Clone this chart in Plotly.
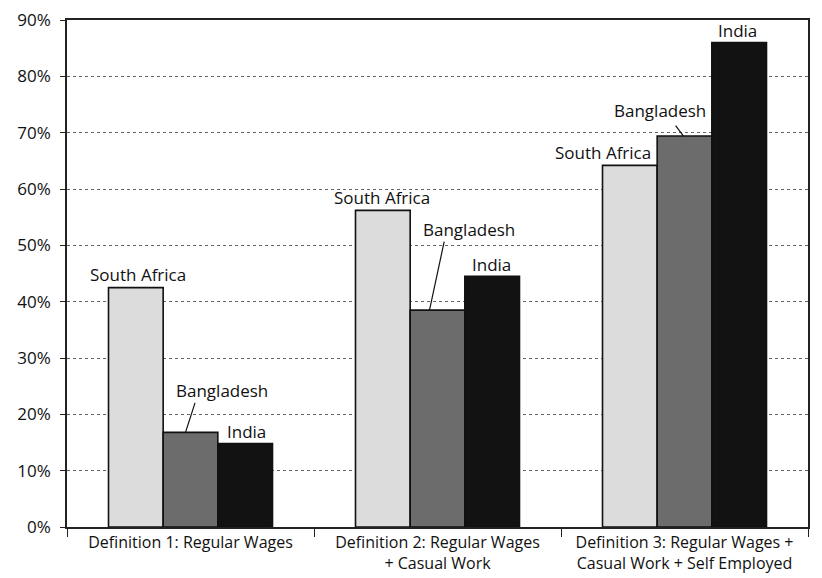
import plotly.graph_objects as go

categories = [
    "Definition 1: Regular Wages",
    "Definition 2: Regular Wages<br>+ Casual Work",
    "Definition 3: Regular Wages +<br>Casual Work + Self Employed",
]
countries = ["South Africa", "Bangladesh", "India"]
south_africa = [42.5, 56.2, 64.2]
bangladesh = [16.8, 38.5, 69.4]
india = [14.8, 44.5, 86.0]
y_ticks = [0, 10, 20, 30, 40, 50, 60, 70, 80, 90]
y_tick_labels = [f"{v}%" for v in y_ticks]

series = [south_africa, bangladesh, india]
bar_colors = ["#dcdcdc", "#6c6c6c", "#121212"]

FONT = "Open Sans"
bargap = 0.336

fig = go.Figure()
for name, vals, col in zip(countries, series, bar_colors):
    fig.add_trace(go.Bar(
        x=categories, y=vals, name=name,
        marker=dict(color=col, line=dict(color="#111111", width=1.6)),
        showlegend=False,
    ))

# label placement (pixel shifts of text centre relative to bar top centre)
label_shift = {
    (0, 0): (2, 13), (0, 2): (1, 12),
    (1, 0): (-1, 13), (1, 2): (-1, 12),
    (2, 0): (-27, 13), (2, 2): (-2, 12),
    (0, 1): (31, 42), (1, 1): (31, 81), (2, 1): (-25, 26),
}
# leader lines for Bangladesh: (head xshift, tail dx, tail dy)
leader = {0: (-5, 10, -31), 1: (-8, 15, -70), 2: (-1, -9, -12)}

w = (1 - bargap) / 3
annotations = []
for gi in range(len(categories)):
    for si, (name, vals) in enumerate(zip(countries, series)):
        xpos = gi + (si - 1) * w
        dx, dy = label_shift[(gi, si)]
        annotations.append(dict(
            x=xpos, y=vals[gi], xref="x", yref="y", text=name,
            showarrow=False, xanchor="center", yanchor="middle",
            xshift=dx, yshift=dy,
            font=dict(family=FONT, size=17, color="#111111"),
        ))
        if si == 1:
            hx, tx, ty = leader[gi]
            annotations.append(dict(
                x=xpos, y=vals[gi], xref="x", yref="y", text="",
                showarrow=True, arrowhead=0, arrowwidth=1.2,
                arrowcolor="#111111", ax=tx, ay=ty, xshift=hx,
                standoff=0, startstandoff=0,
            ))

# the page places the figure 8px in from the top-left corner
fig.update_layout(
    width=814, height=570,
    margin=dict(l=59, r=14, t=12, b=51),
    paper_bgcolor="white", plot_bgcolor="white",
    barmode="group", bargap=bargap, bargroupgap=0,
    font=dict(family=FONT, size=16, color="#111111"),
    annotations=annotations,
)
fig.update_xaxes(
    type="category", tickson="boundaries", ticks="outside", ticklen=8,
    tickcolor="#222222", showline=True, linecolor="#222222", linewidth=1.5,
    mirror=True, showgrid=False, tickfont=dict(family=FONT, size=16),
    automargin=False,
)
fig.update_yaxes(
    range=[0, 90], tickvals=y_ticks, ticktext=y_tick_labels,
    ticks="outside", ticklen=5, tickcolor="#222222",
    showline=True, linecolor="#222222", linewidth=1.5, mirror=True,
    showgrid=True, gridcolor="#666666", gridwidth=1, griddash="dot",
    zeroline=False, tickfont=dict(family=FONT, size=17), ticklabelstandoff=6,
    ticklabeloverflow="allow", automargin=False,
)

fig.write_html("out.html")
